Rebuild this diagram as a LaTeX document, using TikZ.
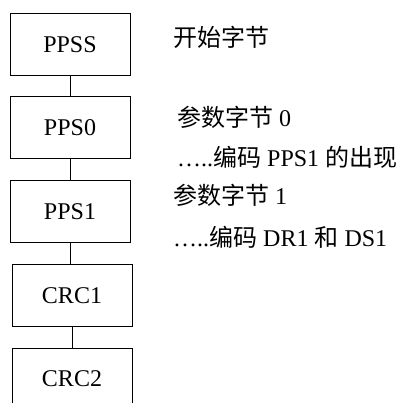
\documentclass[tikz,border=0pt]{standalone}
\usepackage{fontspec}
\setmainfont{Liberation Serif}
\newfontfamily\cjk{Noto Sans CJK SC}
\tikzset{
  framenode/.style = {draw=black, line width=1pt, rectangle,
    minimum width=120pt, minimum height=62pt, inner sep=0pt,
    font=\fontsize{24}{28}\selectfont},
  notenode/.style = {anchor=west, inner sep=0pt,
    font=\fontsize{24}{28}\selectfont},
}

\begin{document}
\begin{tikzpicture}[x=1pt,y=-1pt]
    \useasboundingbox (0,0) rectangle (396,403);
    \clip (0,0) rectangle (396,403);
    \node [framenode] (ppss) at (70,45) {PPSS};
    \node [framenode] (pps0) at (70,128) {PPS0};
    \node [framenode] (pps1) at (70,211.5) {PPS1};
    \node [framenode] (crc1) at (72,295.5) {CRC1};
    \node [framenode] (crc2) at (72,379) {CRC2};
    \draw [line width=1pt] (ppss.south) -- (pps0.north);
    \draw [line width=1pt] (pps0.south) -- (pps1.north);
    \draw [line width=1pt] (pps1.south) -- (pps1.south |- crc1.north);
    \draw [line width=1pt] (crc1.south) -- (crc2.north);
    % notes beside the frames
    \node [notenode] (n0) at (173,37) {\cjk 开始字节};
    \node [notenode] (n1) at (177,117) {{\cjk 参数字节} 0};
    \node [notenode] (n2) at (177,157) {…..{\cjk 编码} PPS1 {\cjk 的出现}};
    \node [notenode] (n3) at (173,195) {{\cjk 参数字节} 1};
    \node [notenode] (n4) at (173,237) {…..{\cjk 编码} DR1 {\cjk 和} DS1};
\end{tikzpicture}
\end{document}
